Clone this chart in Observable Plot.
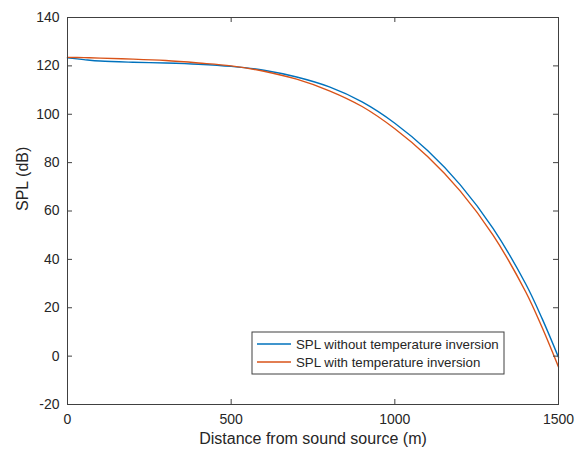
<!DOCTYPE html>
<html>
<head>
<meta charset="utf-8">
<script src="https://cdn.jsdelivr.net/npm/d3@7"></script>
<script src="https://cdn.jsdelivr.net/npm/@observablehq/plot@0.6"></script>
<style>
  html, body { margin: 0; padding: 0; background: #fff; }
  #chart { width: 576px; height: 452px; }
  svg { font-family: "Liberation Sans", Arial, Helvetica, sans-serif; }
</style>
</head>
<body>
<div id="chart"></div>
<script>
// ---- data ----
const distance = [0, 50, 100, 200, 300, 400, 500, 600, 700, 800, 900, 1000, 1100, 1200, 1300, 1400, 1450, 1500];
const splWithout = [123.3, 122.6, 122.0, 121.5, 121.2, 120.7, 119.8, 118.2, 115.4, 111.3, 105.1, 96.3, 85.0, 70.8, 52.8, 29.8, 15.5, -0.5];
const splWith    = [123.5, 123.4, 123.2, 122.8, 122.2, 121.2, 120.0, 117.8, 114.5, 109.7, 103.2, 94.0, 82.5, 68.2, 50.0, 26.5, 11.8, -4.5];
const seriesNames = ["SPL without temperature inversion", "SPL with temperature inversion"];
const seriesColors = ["#0072BD", "#D95319"];
const xTicks = [0, 500, 1000, 1500];
const yTicks = [-20, 0, 20, 40, 60, 80, 100, 120, 140];
const xLabel = "Distance from sound source (m)";
const yLabel = "SPL (dB)";

const rows = [];
distance.forEach((d, i) => rows.push({d, v: splWithout[i], s: seriesNames[0]}));
distance.forEach((d, i) => rows.push({d, v: splWith[i], s: seriesNames[1]}));

const W = 576, H = 452;
const mL = 67, mR = 18, mT = 17, mB = 48;
const plotW = W - mL - mR, plotH = H - mT - mB;
const axisColor = "#404040";
const textColor = "#262626";
const tickLen = 5;

const plot = Plot.plot({
  width: W, height: H,
  marginLeft: mL, marginRight: mR, marginTop: mT, marginBottom: mB,
  style: {fontFamily: "'Liberation Sans', Arial, sans-serif", background: "#fff", color: textColor},
  x: {domain: [0, 1500]},
  y: {domain: [-20, 140]},
  color: {domain: seriesNames, range: seriesColors},
  marks: [
    Plot.line(rows.filter(r => r.s === seriesNames[0]), {x: "d", y: "v", stroke: "s", strokeWidth: 1.4, curve: "catmull-rom"}),
    Plot.line(rows.filter(r => r.s === seriesNames[1]), {x: "d", y: "v", stroke: "s", strokeWidth: 1.4, curve: "catmull-rom"}),
    Plot.frame({stroke: axisColor, strokeWidth: 1}),
    // inward ticks on all four sides
    Plot.ruleX(xTicks, {stroke: axisColor, insetTop: plotH - tickLen}),
    Plot.ruleX(xTicks, {stroke: axisColor, insetBottom: plotH - tickLen}),
    Plot.ruleY(yTicks, {stroke: axisColor, insetRight: plotW - tickLen}),
    Plot.ruleY(yTicks, {stroke: axisColor, insetLeft: plotW - tickLen}),
    Plot.axisX({ticks: xTicks, tickSize: 0, tickPadding: 10, fontSize: 14, label: null, tickFormat: d3.format("d"), color: textColor}),
    Plot.axisY({ticks: yTicks, tickSize: 0, tickPadding: 8, fontSize: 14, label: null, tickFormat: d => d < 0 ? "-" + Math.abs(d) : String(d), color: textColor}),
    Plot.text([xLabel], {frameAnchor: "bottom", dy: 39, fontSize: 16, fill: textColor}),
    Plot.text([yLabel], {frameAnchor: "left", dx: -45, rotate: -90, fontSize: 16, fill: textColor})
  ]
});

document.getElementById("chart").appendChild(plot);

// ---- legend (inside the axes, bottom-right) ----
const svg = d3.select(plot);
const boxR = W - mR - 54, boxB = H - mB - 30;
const boxW = 252, boxH = 42;
const g = svg.append("g").attr("transform", `translate(${boxR - boxW},${boxB - boxH})`);
g.append("rect").attr("width", boxW).attr("height", boxH)
  .attr("fill", "#fff").attr("stroke", axisColor).attr("stroke-width", 1);
seriesNames.forEach((name, i) => {
  const cy = 12 + i * 18;
  g.append("line").attr("x1", 5).attr("x2", 39).attr("y1", cy).attr("y2", cy)
    .attr("stroke", seriesColors[i]).attr("stroke-width", 1.4);
  g.append("text").attr("x", 44).attr("y", cy).attr("dy", "0.35em")
    .attr("text-anchor", "start")
    .attr("font-size", 13.3).attr("fill", textColor).text(name);
});
</script>
</body>
</html>
